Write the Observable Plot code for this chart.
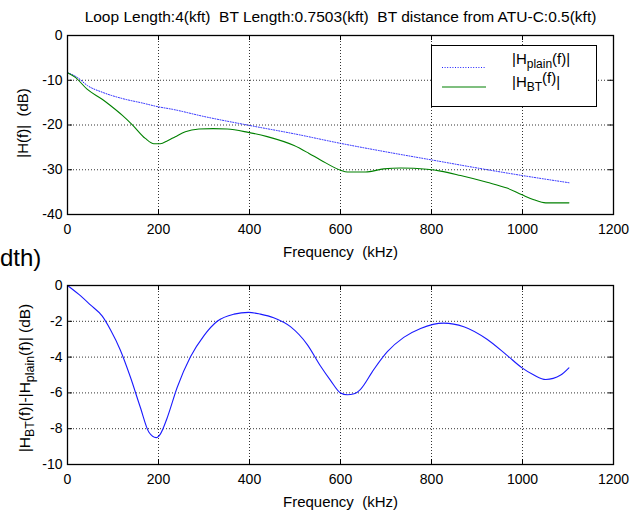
<!DOCTYPE html>
<html>
<head>
<meta charset="utf-8">
<script src="https://cdn.jsdelivr.net/npm/d3@7"></script>
<script src="https://cdn.jsdelivr.net/npm/@observablehq/plot@0.6"></script>
<style>
  html, body { margin: 0; padding: 0; background: white; }
  #wrap { position: relative; width: 637px; height: 510px; overflow: hidden; background: white;
          font-family: "Liberation Sans", Arial, Helvetica, sans-serif; color: black; }
  #top, #bot { position: absolute; left: 0; }
  #top { top: 0; }
  #bot { top: 262px; }
  .abs { position: absolute; white-space: nowrap; }
  sub { font-size: 0.8em; vertical-align: -0.3em; line-height: 0; }
  .up { position: relative; top: -0.25em; }
</style>
</head>
<body>
<div id="wrap">
  <div id="top"></div>
  <div id="bot"></div>
</div>
<script>
// ---- data ----
const titleText = "Loop Length:4(kft)  BT Length:0.7503(kft)  BT distance from ATU-C:0.5(kft)";
const xLabel = "Frequency  (kHz)";
const xTicks = [0, 200, 400, 600, 800, 1000, 1200];
const yTicksTop = [0, -10, -20, -30, -40];
const yTicksBot = [0, -2, -4, -6, -8, -10];

// |H_plain(f)| (dB), blue dotted
const fPlain = [0, 22, 44, 77, 121, 165, 198, 231, 300, 400, 500, 600, 700, 800, 900, 1000, 1102];
const hPlain = [-8.3, -9.4, -11.2, -12.7, -14.1, -15.1, -15.9, -16.5, -18.1, -20.1, -22.0, -24.1, -26.0, -27.8, -29.6, -31.3, -32.9];

// |H_BT(f)| (dB), green solid
const fBT = [0, 18, 43, 77, 95, 120, 142, 171, 190, 204, 220, 237, 259, 289, 320, 351, 395, 439, 498, 530, 556, 600, 615, 655, 695, 732, 790, 820, 864, 922, 966, 999, 1025, 1051, 1102];
const hBT = [-8.3, -9.4, -12.0, -14.3, -15.7, -17.8, -19.9, -23.0, -24.2, -24.2, -23.5, -22.6, -21.5, -20.9, -20.8, -20.9, -21.6, -22.6, -24.6, -26.3, -27.8, -30.1, -30.5, -30.5, -29.8, -29.6, -29.9, -30.3, -31.3, -32.8, -34.1, -35.6, -36.7, -37.4, -37.4];

// |H_BT(f)| - |H_plain(f)| (dB), blue solid
const fDiff = [0, 25, 51, 76, 95, 116, 138, 160, 179, 195, 204, 219, 241, 270, 300, 329, 366, 398, 424, 453, 490, 527, 556, 578, 600, 615, 630, 644, 673, 703, 739, 776, 827, 871, 922, 966, 999, 1025, 1051, 1084, 1102];
const hDiff = [0, -0.5, -1.1, -1.7, -2.5, -3.6, -5.1, -6.8, -8.2, -8.5, -8.3, -7.4, -5.7, -4.0, -2.8, -2.0, -1.6, -1.5, -1.6, -1.8, -2.3, -3.3, -4.5, -5.3, -6.0, -6.1, -6.05, -5.8, -4.7, -3.7, -2.9, -2.4, -2.1, -2.3, -3.0, -3.9, -4.6, -5.0, -5.25, -5.0, -4.6];

const legendLabels = ["plain", "BT"];

const plainData = fPlain.map((f, i) => ({f, v: hPlain[i]}));
const btData = fBT.map((f, i) => ({f, v: hBT[i]}));
const diffData = fDiff.map((f, i) => ({f, v: hDiff[i]}));

const FONT = '"Liberation Sans", Arial, Helvetica, sans-serif';
const W = 637, ML = 67, MR = 24;
const FW = W - ML - MR;

function panel({height, marginTop, marginBottom, yDomain, yTicks, lines}) {
  const FH = height - marginTop - marginBottom;
  return Plot.plot({
    width: W, height,
    marginLeft: ML, marginRight: MR, marginTop, marginBottom,
    style: {fontFamily: FONT, fontSize: "14px", color: "black", background: "white", overflow: "visible"},
    x: {domain: [0, 1200]},
    y: {domain: yDomain},
    marks: [
      Plot.ruleX(xTicks.slice(1, -1), {x: d => d, stroke: "black", strokeOpacity: 0.8, strokeDasharray: "1,2"}),
      Plot.ruleY(yTicks.slice(1, -1), {y: d => d, stroke: "black", strokeOpacity: 0.8, strokeDasharray: "1,2"}),
      Plot.tickX(xTicks, {x: d => d, insetTop: FH - 5, stroke: "black"}),
      Plot.tickX(xTicks, {x: d => d, insetBottom: FH - 5, stroke: "black"}),
      Plot.tickY(yTicks, {y: d => d, insetRight: FW - 5, stroke: "black"}),
      Plot.tickY(yTicks, {y: d => d, insetLeft: FW - 5, stroke: "black"}),
      ...lines,
      Plot.frame({stroke: "black", strokeWidth: 1.3}),
      Plot.axisX({ticks: xTicks, tickSize: 0, tickPadding: 10, tickFormat: d => String(d), label: null}),
      Plot.axisY({ticks: yTicks, tickSize: 0, tickPadding: 5, tickFormat: d => String(d), label: null}),
      Plot.text([xLabel], {text: d => d, frameAnchor: "bottom", dy: 38, fontSize: 15,
                           fill: "black", lineAnchor: "middle", letterSpacing: "0.25px"})
    ]
  });
}

const topChart = panel({
  height: 262, marginTop: 35, marginBottom: 48,
  yDomain: [-40, 0], yTicks: yTicksTop,
  lines: [
    Plot.line(plainData, {x: "f", y: "v", stroke: "#2020ff", strokeWidth: 1, strokeDasharray: "1,1.6", curve: "monotone-x"}),
    Plot.line(btData, {x: "f", y: "v", stroke: "#008000", strokeWidth: 1.1, curve: "monotone-x"}),
    Plot.text([titleText], {text: d => d, frameAnchor: "top", dy: -18, lineAnchor: "middle",
                            fontSize: 15.5, letterSpacing: "1.75px", fill: "black"})
  ]
});
document.getElementById("top").appendChild(topChart);

const botChart = panel({
  height: 248, marginTop: 23, marginBottom: 46,
  yDomain: [-10, 0], yTicks: yTicksBot,
  lines: [
    Plot.line(diffData, {x: "f", y: "v", stroke: "#1a1aff", strokeWidth: 1.1, curve: "monotone-x"})
  ]
});
document.getElementById("bot").appendChild(botChart);

// ---- overlays: axis titles, legend, clipped text ----
const wrap = document.getElementById("wrap");
function addDiv(html, style) {
  const d = document.createElement("div");
  d.className = "abs";
  d.innerHTML = html;
  Object.assign(d.style, style);
  wrap.appendChild(d);
  return d;
}

// y-axis labels (rotated)
addDiv("|H(f)|&nbsp;&nbsp;(dB)", {left: "22px", top: "123px", fontSize: "15px",
  transform: "translate(-50%,-50%) rotate(-90deg)"});
addDiv("|H<sub>BT</sub>(f)|-|H<sub>" + legendLabels[0] + "</sub>(f)|&nbsp;(dB)", {left: "25px", top: "378px", fontSize: "15.5px",
  transform: "translate(-50%,-50%) rotate(-90deg)"});

// clipped text fragment at left
addDiv("dth)", {left: "0px", top: "243px", fontSize: "24px", lineHeight: "30px"});

// legend
const leg = addDiv("", {left: "431px", top: "45px", width: "166px", height: "62px",
  border: "1.3px solid black", background: "white", boxSizing: "border-box"});
leg.innerHTML = `
<svg width="166" height="62" style="position:absolute;left:0;top:0">
  <line x1="10" x2="54" y1="21.5" y2="21.5" stroke="#2020ff" stroke-width="1" stroke-dasharray="1,1.6"/>
  <line x1="10" x2="54" y1="41" y2="41" stroke="#008000" stroke-width="1.1"/>
</svg>
<div class="abs" style="left:80px;top:5px;font-size:15px;line-height:16px">|H<sub>${legendLabels[0]}</sub>(f)|</div>
<div class="abs" style="left:80px;top:28px;font-size:15px;line-height:16px">|H<sub>${legendLabels[1]}</sub><span class="up">(f)</span>|</div>`;
</script>
</body>
</html>
